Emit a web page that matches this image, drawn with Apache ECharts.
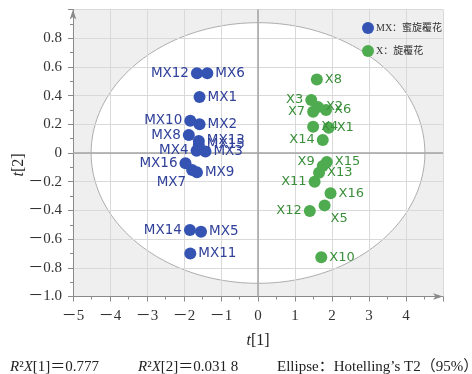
<!DOCTYPE html>
<html>
<head>
<meta charset="utf-8">
<script src="https://cdn.jsdelivr.net/npm/echarts@6/dist/echarts.min.js"></script>
<style>
  html, body { margin: 0; padding: 0; background: #fff; }
  #chart { width: 472px; height: 374px; }
</style>
</head>
<body>
<div id="chart"></div>
<script>
// PLS-DA score plot: t[1] vs t[2] for two groups of samples
const mxNames = ['MX1','MX2','MX3','MX4','MX5','MX6','MX7','MX8','MX9','MX10','MX11','MX12','MX13','MX14','MX15','MX16'];
const mxT1 = [-1.58, -1.58, -1.42, -1.66, -1.54, -1.37, -1.78, -1.87, -1.65, -1.83, -1.83, -1.65, -1.60, -1.84, -1.60, -1.96];
const mxT2 = [0.39, 0.20, 0.010, 0.016, -0.548, 0.555, -0.118, 0.125, -0.135, 0.225, -0.70, 0.555, 0.084, -0.537, 0.056, -0.072];

const xNames = ['X1','X2','X3','X4','X5','X6','X7','X8','X9','X10','X11','X12','X13','X14','X15','X16'];
const xT1 = [1.91, 1.62, 1.44, 1.49, 1.80, 1.84, 1.49, 1.59, 1.75, 1.71, 1.53, 1.40, 1.65, 1.75, 1.86, 1.96];
const xT2 = [0.176, 0.32, 0.369, 0.183, -0.365, 0.30, 0.288, 0.513, -0.09, -0.727, -0.20, -0.404, -0.137, 0.09, -0.063, -0.28];

const groupNames = ['MX：蜜旋覆花', 'X：旋覆花'];

// Axis tick labels
const xTickLabels = [-5, -4, -3, -2, -1, 0, 1, 2, 3, 4];
const yTickLabels = [-1.0, -0.8, -0.6, -0.4, -0.2, 0, 0.2, 0.4, 0.6, 0.8];

// Hotelling's T2 (95%) ellipse semi-axes in score units
const ellipseRadii = [4.51, 0.908];

const X_MIN = -5, X_MAX = 5, Y_MIN = -1, Y_MAX = 1;

// Where each point's label sits
const labelPlacement = {
  MX12: { position: 'left' }, MX10: { position: 'left' }, MX8: { position: 'left' },
  MX4: { position: 'left' }, MX16: { position: 'left' }, MX14: { position: 'left' },
  MX7: { position: 'left', offset: [2, 13] },
  X3: { position: 'left' }, X7: { position: 'left' }, X14: { position: 'left' },
  X11: { position: 'left' }, X12: { position: 'left' },
  X9: { position: 'left', offset: [0, -4] },
  X5: { position: 'right', offset: [-2, 13] }
};

const serif = '"Liberation Serif", "Noto Sans CJK SC", serif';
const MINUS = '－';

function fmtNum(v, digits) {
  if (Math.abs(v) < 1e-9) return '0';
  const s = Math.abs(v).toFixed(digits);
  return (v < 0 ? MINUS : '') + s;
}
function hasTick(list, v) {
  return list.some(t => Math.abs(t - v) < 1e-6);
}

function buildPoints(names, t1, t2) {
  return names.map((n, i) => {
    const p = labelPlacement[n] || { position: 'right' };
    return { name: n, value: [t1[i], t2[i]], label: Object.assign({}, p) };
  });
}

const chart = echarts.init(document.getElementById('chart'), null, { renderer: 'canvas' });

const axisGrey = '#8a8a8a';
const splitGrey = '#d9d9d9';

chart.setOption({
  animation: false,
  grid: { left: 73, right: 29, top: 9.5, bottom: 77.5, outerBoundsMode: 'none', containLabel: false },
  legend: {
    orient: 'vertical',
    left: 357,
    top: 17,
    itemWidth: 12,
    itemHeight: 12,
    itemGap: 11,
    icon: 'circle',
    data: groupNames,
    textStyle: { fontFamily: serif, fontSize: 10, color: '#333', padding: [0, 0, 0, -3] }
  },
  xAxis: {
    type: 'value', min: X_MIN, max: X_MAX, interval: 1, z: 3,
    name: '{i|t}[1]',
    nameLocation: 'middle', nameGap: 36, nameMoveOverlap: false,
    nameTextStyle: {
      fontFamily: serif, fontSize: 16, color: '#222',
      rich: { i: { fontFamily: serif, fontSize: 16, fontStyle: 'italic', color: '#222' } }
    },
    axisLine: { onZero: false, lineStyle: { color: axisGrey, width: 1 }, symbol: ['none', 'arrow'], symbolSize: [5, 10] },
    axisTick: { show: true, length: 5, lineStyle: { color: axisGrey } },
    minorTick: { show: true, splitNumber: 2, length: 3, lineStyle: { color: axisGrey } },
    splitLine: { show: true, lineStyle: { color: splitGrey, width: 1 } },
    axisLabel: {
      margin: 12, fontFamily: serif, fontSize: 15, color: '#333',
      formatter: v => hasTick(xTickLabels, v) ? fmtNum(v, 0) : ''
    }
  },
  yAxis: {
    type: 'value', min: Y_MIN, max: Y_MAX, interval: 0.2, z: 3,
    name: '{i|t}[2]',
    nameLocation: 'middle', nameGap: 46, nameMoveOverlap: false,
    nameTextStyle: {
      fontFamily: serif, fontSize: 16, color: '#222', padding: [0, 24, 0, 0],
      rich: { i: { fontFamily: serif, fontSize: 16, fontStyle: 'italic', color: '#222' } }
    },
    axisLine: { onZero: false, lineStyle: { color: axisGrey, width: 1 }, symbol: ['none', 'arrow'], symbolSize: [5, 10] },
    axisTick: { show: true, length: 5, lineStyle: { color: axisGrey } },
    minorTick: { show: true, splitNumber: 2, length: 3, lineStyle: { color: axisGrey } },
    splitLine: { show: true, lineStyle: { color: splitGrey, width: 1 } },
    axisLabel: {
      margin: 11, fontFamily: serif, fontSize: 15, color: '#333',
      formatter: v => hasTick(yTickLabels, v) ? fmtNum(v, 1) : ''
    }
  },
  series: [
    {
      // shaded plot area with the confidence ellipse cut out in white
      type: 'custom', z: 1, silent: true, clip: false,
      data: [[0, 0]],
      renderItem: function (params, api) {
        const tl = api.coord([X_MIN, Y_MAX]);
        const br = api.coord([X_MAX, Y_MIN]);
        const pts = [];
        const n = 240;
        for (let i = 0; i < n; i++) {
          const a = i / n * Math.PI * 2;
          pts.push(api.coord([ellipseRadii[0] * Math.cos(a), ellipseRadii[1] * Math.sin(a)]));
        }
        return {
          type: 'group',
          children: [
            { type: 'rect', shape: { x: tl[0], y: tl[1], width: br[0] - tl[0], height: br[1] - tl[1] }, style: { fill: '#efefef' } },
            { type: 'polygon', shape: { points: pts }, style: { fill: '#ffffff', stroke: '#adadad', lineWidth: 1 } }
          ]
        };
      }
    },
    {
      name: groupNames[0], type: 'scatter', z: 5, symbol: 'circle', symbolSize: 12,
      itemStyle: { color: '#3453b3', opacity: 1 },
      emphasis: { disabled: true },
      label: { show: true, formatter: '{b}', color: '#30419a', fontSize: 13.5, fontFamily: '"DejaVu Sans", sans-serif', distance: 2 },
      markLine: {
        silent: true, symbol: ['none', 'none'], label: { show: false },
        lineStyle: { type: 'solid', color: '#a3a3a3', width: 1.5 },
        data: [{ xAxis: 0 }, { yAxis: 0 }]
      },
      data: buildPoints(mxNames, mxT1, mxT2)
    },
    {
      name: groupNames[1], type: 'scatter', z: 5, symbol: 'circle', symbolSize: 12,
      itemStyle: { color: '#4fab4f', opacity: 1 },
      emphasis: { disabled: true },
      label: { show: true, formatter: '{b}', color: '#3b8f3b', fontSize: 13, fontFamily: '"DejaVu Sans", sans-serif', distance: 2 },
      data: buildPoints(xNames, xT1, xT2)
    }
  ],
  graphic: [
    {
      type: 'text', x: 10, y: 367, silent: true,
      style: {
        text: '{i|R}²{i|X}[1]＝0.777',
        fontFamily: serif, fontSize: 15, fill: '#222', verticalAlign: 'middle',
        rich: { i: { fontFamily: serif, fontSize: 15, fontStyle: 'italic', fill: '#222' } }
      }
    },
    {
      type: 'text', x: 138, y: 367, silent: true,
      style: {
        text: '{i|R}²{i|X}[2]＝0.031 8',
        fontFamily: serif, fontSize: 15, fill: '#222', verticalAlign: 'middle',
        rich: { i: { fontFamily: serif, fontSize: 15, fontStyle: 'italic', fill: '#222' } }
      }
    },
    {
      type: 'text', x: 277, y: 367, silent: true,
      style: {
        text: 'Ellipse：Hotelling’s T2（95%）',
        fontFamily: serif, fontSize: 15, fill: '#222', verticalAlign: 'middle'
      }
    }
  ]
});
</script>
</body>
</html>
